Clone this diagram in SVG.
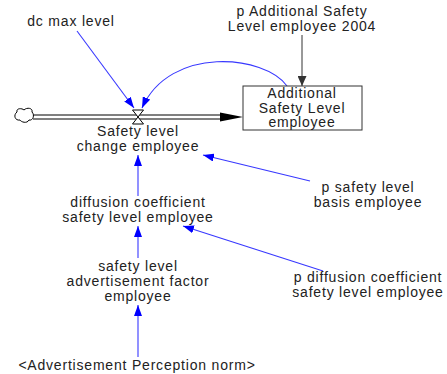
<svg xmlns="http://www.w3.org/2000/svg" width="447" height="374" viewBox="0 0 447 374">
<defs>
<style>
text{font-family:"Liberation Sans",Arial,sans-serif;font-size:14px;letter-spacing:0.8px;fill:#222;text-anchor:middle}
.link{stroke:#3838ff;stroke-width:1.1;fill:none;marker-end:url(#blue)}
</style>
<marker id="blue" markerUnits="userSpaceOnUse" markerWidth="11" markerHeight="8" refX="11" refY="4" orient="auto"><path d="M0,0 L11,4 L0,8 z" fill="#0000ff"/></marker>
<marker id="gray" markerUnits="userSpaceOnUse" markerWidth="10" markerHeight="9" refX="10" refY="4.5" orient="auto"><path d="M0,0 L10,4.5 L0,9 z" fill="#333"/></marker>
</defs>
<rect width="447" height="374" fill="#fff"/>
<g id="connectors">
<line x1="77" y1="31" x2="134" y2="108" class="link"/>
<path d="M287,86 C265,55 170,45 142,108" class="link"/>
<line x1="310" y1="181" x2="203" y2="155" class="link"/>
<line x1="138" y1="196" x2="138" y2="155" class="link"/>
<line x1="138" y1="258" x2="138" y2="226" class="link"/>
<line x1="138" y1="357" x2="138" y2="305" class="link"/>
<line x1="323" y1="271" x2="183" y2="226" class="link"/>
<line x1="302" y1="35" x2="302" y2="86" stroke="#333" stroke-width="1" marker-end="url(#gray)"/>
</g>
<g id="flow">
<line x1="33" y1="115" x2="222" y2="115" stroke="#000" stroke-width="1"/>
<line x1="33" y1="119" x2="222" y2="119" stroke="#000" stroke-width="1"/>
<path d="M220,112.5 L243,117 L220,121.5 z" fill="#000"/>
<path d="M17,112 C16,108 22,108 24,110 C27,107 33,108 32,112 C35,115 33,121 29,120 C27,124 21,122 20,120 C15,121 13,115 17,112 z" fill="#fff" stroke="#000" stroke-width="1"/>
<path d="M132.5,110 L143.5,110 L138,117 z M132.5,124 L143.5,124 L138,117 z" fill="#fff" stroke="#000" stroke-width="1"/>
</g>
<g id="safety-level-change-employee">
<text x="138" y="136">Safety level</text>
<text x="138" y="151">change employee</text>
</g>
<g id="additional-safety-level-employee">
<rect x="243" y="86" width="119" height="44" fill="#fff" stroke="#333" stroke-width="1"/>
<text x="302" y="98">Additional</text>
<text x="302" y="112.5">Safety Level</text>
<text x="302" y="127">employee</text>
</g>
<g id="dc-max-level">
<text x="71" y="26">dc max level</text>
</g>
<g id="p-additional-safety-level-employee-2004">
<text x="302" y="16">p Additional Safety</text>
<text x="302" y="31">Level employee 2004</text>
</g>
<g id="p-safety-level-basis-employee">
<text x="368" y="192">p safety level</text>
<text x="368" y="207">basis employee</text>
</g>
<g id="diffusion-coefficient-safety-level-employee">
<text x="138" y="207">diffusion coefficient</text>
<text x="138" y="222">safety level employee</text>
</g>
<g id="safety-level-advertisement-factor-employee">
<text x="138" y="271">safety level</text>
<text x="138" y="286">advertisement factor</text>
<text x="138" y="301">employee</text>
</g>
<g id="p-diffusion-coefficient-safety-level-employee">
<text x="368" y="282">p diffusion coefficient</text>
<text x="368" y="297">safety level employee</text>
</g>
<g id="advertisement-perception-norm">
<text x="137" y="370">&lt;Advertisement Perception norm&gt;</text>
</g>
</svg>
